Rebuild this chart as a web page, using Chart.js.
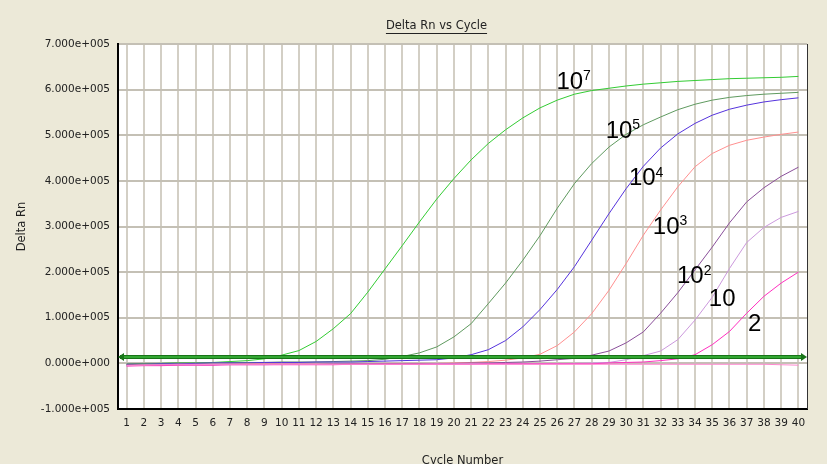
<!DOCTYPE html>
<html><head><meta charset="utf-8">
<script src="https://cdn.jsdelivr.net/npm/chart.js@4.4.0/dist/chart.umd.min.js"></script>
<style>html,body{margin:0;padding:0;background:#ECE9D8;overflow:hidden}canvas{display:block}</style>
</head><body>
<canvas id="c" width="827" height="464"></canvas>
<script>
// ---- data ----
const cycles = [1,2,3,4,5,6,7,8,9,10,11,12,13,14,15,16,17,18,19,20,21,22,23,24,25,26,27,28,29,30,31,32,33,34,35,36,37,38,39,40];
const yTickValues = [-100000,0,100000,200000,300000,400000,500000,600000,700000];
const yTickLabels = ['-1.000e+005','0.000e+000','1.000e+005','2.000e+005','3.000e+005','4.000e+005','5.000e+005','6.000e+005','7.000e+005'];
const thresholdValue = 15000;

const copies1e7 = [-2000,-1000,0,1000,1000,2000,4000,6000,10000,18000,28000,48000,76000,109000,156000,207000,258000,310000,360000,405000,446000,482000,512000,538000,560000,577000,590000,598000,603000,608000,612000,615000,618000,620000,622000,624000,625000,626000,627000,629000];
const copies1e5 = [-1000,0,0,1000,1000,1000,2000,2000,2000,3000,3000,3000,4000,5000,6000,9000,15000,23000,36000,58000,87000,131000,176000,226000,280000,340000,394000,438000,474000,502000,523000,540000,556000,568000,577000,583000,587000,590000,592000,594000];
const copies1e4 = [-2000,-2000,-1000,-1000,0,1000,1000,1000,2000,2000,2000,3000,3000,3000,4000,5000,6000,7000,8000,12000,19000,30000,50000,80000,118000,162000,212000,270000,328000,383000,432000,472000,503000,526000,544000,557000,566000,573000,578000,582000];
const copies1e3 = [-4000,-3000,-3000,-2000,-2000,-2000,-2000,-1000,-1000,-1000,-1000,-1000,-1000,-1000,-1000,0,0,0,0,1000,2000,4000,7000,12000,20000,39000,69000,109000,160000,219000,281000,336000,387000,431000,460000,478000,489000,496000,502000,507000];
const copies1e2 = [-4000,-4000,-3000,-3000,-3000,-3000,-2000,-2000,-2000,-2000,-2000,-2000,-1000,-1000,-1000,-1000,-1000,-1000,-1000,0,1000,1000,2000,3000,5000,8000,11000,18000,27000,45000,69000,110000,155000,205000,255000,308000,354000,385000,410000,430000];
const copies10 = [-5000,-4000,-4000,-4000,-3000,-3000,-3000,-3000,-3000,-2000,-2000,-2000,-2000,-2000,-2000,-2000,-2000,-2000,-1000,-1000,-1000,-1000,-1000,-1000,-1000,-1000,0,1000,2000,8000,17000,27000,52000,95000,145000,208000,265000,298000,320000,333000];
const copies2 = [-6000,-5000,-5000,-4000,-4000,-4000,-3000,-3000,-3000,-3000,-3000,-3000,-3000,-2000,-2000,-2000,-2000,-2000,-2000,-2000,-2000,-1000,-1000,-1000,-1000,-1000,-1000,-1000,1000,2000,3000,6000,10000,19000,41000,70000,110000,147000,176000,200000];
const noTemplate = [-5000,-4000,-3000,-3000,-3000,-2000,-2000,-2000,-2000,-2000,-2000,-2000,-2000,-2000,-2000,-2000,-2000,-2000,-2000,-2000,-2000,-2000,-2000,-2000,-2000,-2000,-2000,-2000,-2000,-2000,-2000,-2000,-2000,-2000,-2000,-2000,-2000,-2000,-3000,-4000];

const seriesNames = ['10^7','10^5','10^4','10^3','10^2','10','2','NTC'];
const seriesData = [copies1e7, copies1e5, copies1e4, copies1e3, copies1e2, copies10, copies2, noTemplate];
const seriesColors = ['#33cc33','#5f9a5f','#5533dd','#ff9090','#8a4f9a','#cc99dd','#ff2fc0','#ff88d0'];

// curve labels: base text, exponent, anchored at (cycle, value) left/baseline
const curveLabels = [
  {base:'10', exp:'7', cycle:25.95, value:602000},
  {base:'10', exp:'5', cycle:28.81, value:495000},
  {base:'10', exp:'4', cycle:30.16, value:390000},
  {base:'10', exp:'3', cycle:31.55, value:284000},
  {base:'10', exp:'2', cycle:32.95, value:176000},
  {base:'10', exp:'',  cycle:34.80, value:125000},
  {base:'2',  exp:'',  cycle:37.07, value:72000}
];

const ctx = document.getElementById('c').getContext('2d');

const bgPlugin = {
  id:'bg',
  beforeDraw(chart){
    const c = chart.ctx, a = chart.chartArea;
    c.save();
    c.fillStyle = '#ECE9D8';
    c.fillRect(0,0,chart.width,chart.height);
    c.fillStyle = '#ffffff';
    c.fillRect(a.left,a.top,a.right-a.left,a.bottom-a.top);
    c.restore();
  }
};

const overlayPlugin = {
  id:'overlay',
  afterDatasetsDraw(chart){
    const c = chart.ctx, a = chart.chartArea;
    const xs = chart.scales.x, ys = chart.scales.y;
    c.save();
    // right border
    c.strokeStyle = '#333';
    c.lineWidth = 1;
    c.beginPath();
    c.moveTo(a.right+0.5, a.top);
    c.lineTo(a.right+0.5, a.bottom);
    c.stroke();
    // threshold line
    const ty = Math.round(ys.getPixelForValue(thresholdValue));
    c.strokeStyle = '#187418';
    c.lineWidth = 4;
    c.beginPath();
    c.moveTo(a.left+2, ty);
    c.lineTo(a.right-3, ty);
    c.stroke();
    c.strokeStyle = '#3cb83c';
    c.lineWidth = 1.5;
    c.beginPath();
    c.moveTo(a.left+3, ty);
    c.lineTo(a.right-4, ty);
    c.stroke();
    // arrows
    c.fillStyle = '#187418';
    c.beginPath();
    c.moveTo(a.left, ty);
    c.lineTo(a.left+6, ty-4);
    c.lineTo(a.left+6, ty+4);
    c.closePath();
    c.fill();
    c.beginPath();
    c.moveTo(a.right, ty);
    c.lineTo(a.right-6, ty-4);
    c.lineTo(a.right-6, ty+4);
    c.closePath();
    c.fill();
    // curve labels
    c.fillStyle = '#000';
    c.textBaseline = 'alphabetic';
    c.textAlign = 'left';
    curveLabels.forEach(l => {
      const px = xs.getPixelForValue(l.cycle - 1);
      const py = ys.getPixelForValue(l.value);
      c.font = '24px "Liberation Sans", Arial, sans-serif';
      c.fillText(l.base, px, py);
      const w = c.measureText(l.base).width;
      if (l.exp) {
        c.font = '14px "Liberation Sans", Arial, sans-serif';
        c.fillText(l.exp, px + w, py - 8.5);
      }
    });
    c.restore();
  },
  afterDraw(chart){
    const c = chart.ctx;
    c.save();
    c.font = '11.5px "DejaVu Sans", sans-serif';
    c.fillStyle = '#222';
    c.textAlign = 'center';
    c.textBaseline = 'middle';
    const cx = (chart.chartArea.left + chart.chartArea.right)/2 - 26;
    const title = 'Delta Rn vs Cycle';
    c.fillText(title, cx, 26);
    const w = c.measureText(title).width;
    c.strokeStyle = '#222';
    c.lineWidth = 1;
    c.beginPath();
    c.moveTo(cx - w/2, 33.5);
    c.lineTo(cx + w/2, 33.5);
    c.stroke();
    c.restore();
  }
};

new Chart(ctx, {
  type:'line',
  data:{
    labels: cycles,
    datasets: seriesData.map((d,i) => ({
      label: seriesNames[i],
      data: d,
      borderColor: seriesColors[i],
      backgroundColor: seriesColors[i],
      borderWidth: 1,
      pointRadius: 0,
      tension: 0,
      fill: false
    })).reverse()
  },
  options:{
    responsive:false,
    animation:false,
    devicePixelRatio:1,
    layout:{padding:{top:44,right:20,left:0,bottom:0}},
    plugins:{legend:{display:false}, tooltip:{enabled:false}, title:{display:false}},
    scales:{
      x:{
        type:'category',
        offset:true,
        grid:{color:'#d3cfc5', lineWidth:2, drawTicks:false, offset:false},
        border:{color:'#000', width:2},
        ticks:{font:{family:'DejaVu Sans', size:10.5}, color:'#222', padding:8, autoSkip:false, maxRotation:0, minRotation:0},
        title:{display:true, text:'Cycle Number', font:{family:'DejaVu Sans', size:11.5}, color:'#222', padding:{top:0,bottom:-4}},
        afterFit(s){ s.height = 55; }
      },
      y:{
        type:'linear',
        min:-100000, max:700000,
        afterBuildTicks(s){ s.ticks = yTickValues.map(v => ({value:v})); },
        grid:{color:'#c4c0b5', lineWidth:2, drawTicks:false},
        border:{color:'#000', width:2},
        ticks:{
          font:{family:'DejaVu Sans', size:10.5}, color:'#222', padding:8,
          callback(v){ const i = yTickValues.indexOf(v); return i >= 0 ? yTickLabels[i] : ''; }
        },
        title:{display:true, text:'Delta Rn', font:{family:'DejaVu Sans', size:11.5}, color:'#222', padding:{top:15,bottom:0}},
        afterFit(s){ s.width = 118; }
      }
    }
  },
  plugins:[bgPlugin, overlayPlugin]
});
</script>
</body></html>
